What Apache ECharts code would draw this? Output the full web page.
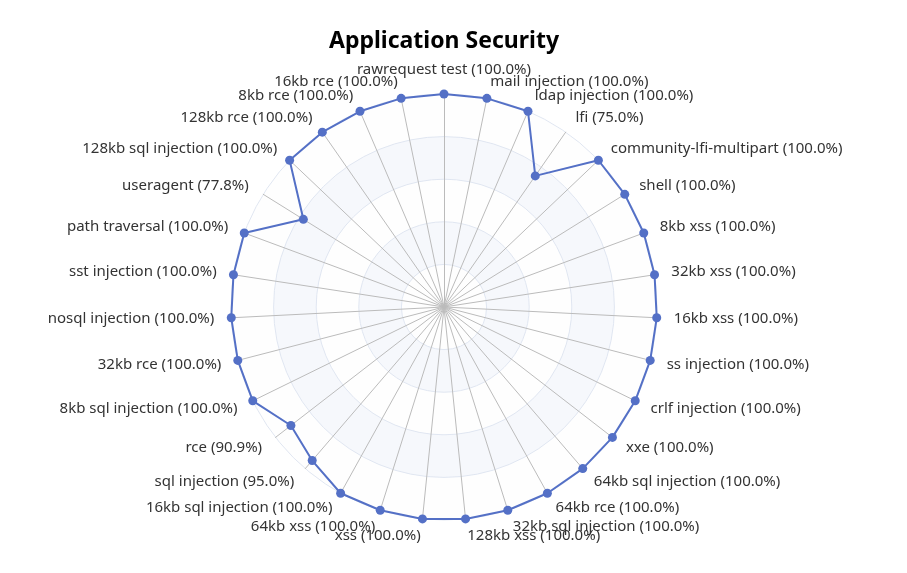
<!DOCTYPE html>
<html>
<head>
<meta charset="utf-8">
<script src="https://cdn.jsdelivr.net/npm/echarts@6/dist/echarts.min.js"></script>
<style>html,body{margin:0;padding:0;background:#fff}#c{width:907px;height:573px}</style>
</head>
<body>
<div id="c"></div>
<script>
// indicator order as in ECharts (top, then counterclockwise)
const categories = [
  'rawrequest test','16kb rce','8kb rce','128kb rce','128kb sql injection','useragent',
  'path traversal','sst injection','nosql injection','32kb rce','8kb sql injection','rce',
  'sql injection','16kb sql injection','64kb xss','xss','128kb xss','32kb sql injection',
  '64kb rce','64kb sql injection','xxe','crlf injection','ss injection','16kb xss',
  '32kb xss','8kb xss','shell','community-lfi-multipart','lfi','ldap injection','mail injection'
];
const passRates = [
  100,100,100,100,100,77.8,
  100,100,100,100,100,90.9,
  95,100,100,100,100,100,
  100,100,100,100,100,100,
  100,100,100,100,75,100,100
];
const maxValue = 100;

const chart = echarts.init(document.getElementById('c'));
chart.setOption({
  textStyle: {fontFamily: 'Noto Sans, sans-serif'},
  title: {
    text: 'Application Security',
    left: 439,
    textAlign: 'center',
    top: 25,
    textStyle: {fontSize: 23, fontWeight: 'bold', color: '#000', fontFamily: 'Noto Sans, sans-serif'}
  },
  radar: {
    center: [444, 307],
    radius: 213,
    splitNumber: 5,
    shape: 'circle',
    nameGap: 17,
    indicator: categories.map((c, i) => ({name: c + ' (' + passRates[i].toFixed(1) + '%)', max: maxValue})),
    axisName: {color: '#333', fontSize: 15, fontFamily: 'Noto Sans, sans-serif'},
    axisLine: {lineStyle: {color: '#bbb'}},
    splitLine: {lineStyle: {color: '#E0E6F1'}},
    splitArea: {areaStyle: {color: ['rgba(250,250,250,0.2)', 'rgba(210,219,238,0.2)']}}
  },
  series: [{
    type: 'radar',
    symbol: 'circle',
    symbolSize: 9,
    lineStyle: {width: 2, color: '#5470c6'},
    itemStyle: {color: '#5470c6'},
    data: [{value: passRates, name: 'Application Security'}]
  }]
});
</script>
</body>
</html>
